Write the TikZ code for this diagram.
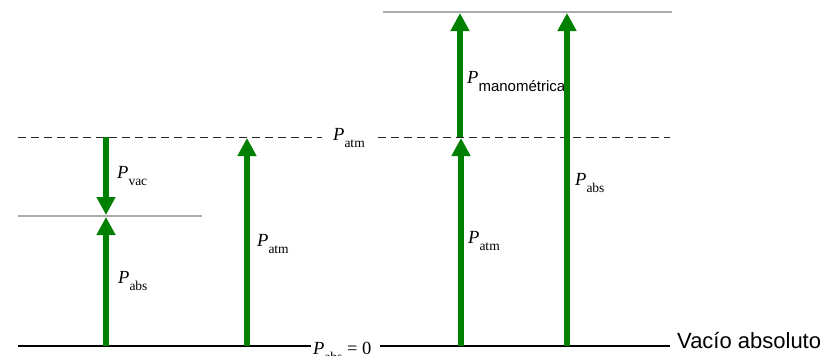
\documentclass[tikz,border=0pt]{standalone}
\usepackage{fontspec}
\setmainfont{Liberation Serif}
\newfontfamily\arialfont{Liberation Sans}
\usetikzlibrary{arrows.meta}
\definecolor{arrowgreen}{RGB}{0,128,0}
\definecolor{levelgrey}{RGB}{172,172,172}
\newcommand{\psub}[1]{\textit{P}\raisebox{-7pt}{\fontsize{13.5}{14}\selectfont #1}}
\tikzset{
  press/.style={draw=arrowgreen,line width=5.5pt,-{Triangle[width=18pt,length=18pt]}},
  zeroline/.style={draw=black,line width=2.6pt},
  atmline/.style={draw=black!85,line width=1pt,dash pattern=on 8pt off 5pt},
  level/.style={draw=levelgrey,line width=2.4pt},
  lbl/.style={anchor=base west,inner sep=0pt,font=\fontsize{18.5}{20}\selectfont},
}

\begin{document}
\begin{tikzpicture}[x=1pt,y=-1pt]
  \useasboundingbox[fill=white] (0,0) rectangle (825,356);

  % niveles de presion
  \coordinate (zeroL) at (18,346);
  \coordinate (atmL)  at (18,137);
  \coordinate (vacL)  at (18,216);
  \coordinate (vacR)  at (202,216);
  \coordinate (manL)  at (383,12);
  \coordinate (manR)  at (672,12);

  \node[lbl] (pzero) at (313,354) {\psub{abs} = 0};
  \node[lbl] (patm)  at (333,140) {\psub{atm}};
  \node[lbl,font=\arialfont\fontsize{22}{24}\selectfont] (vacio) at (677,348) {Vacío absoluto};

  \draw[zeroline] (zeroL) -- (311,346);
  \draw[zeroline] (380,346) -- (670,346);
  \draw[atmline] (atmL) -- (322,137);
  \draw[atmline] (378,137) -- (670,137);
  \draw[level] (vacL) -- (vacR);
  \draw[level] (manL) -- (manR);

  % etiquetas de las flechas
  \node[lbl] (pvac)   at (117,178) {\psub{vac}};
  \node[lbl] (pabsA)  at (118,283) {\psub{abs}};
  \node[lbl] (patmA)  at (257,246) {\psub{atm}};
  \node[lbl] (patmB)  at (468,243) {\psub{atm}};
  \node[lbl] (pabsB)  at (575,185) {\psub{abs}};
  \node[lbl] (pman)   at (467,83)
    {\textit{P}\raisebox{-8pt}{\arialfont\fontsize{15}{16}\selectfont manométrica}};

  % flechas
  \coordinate (a1) at (106,137);  \coordinate (a1e) at (106,215);
  \coordinate (a2) at (106,346);  \coordinate (a2e) at (106,217);
  \coordinate (a3) at (247,346);  \coordinate (a3e) at (247,138);
  \coordinate (a4) at (461,346);  \coordinate (a4e) at (461,138);
  \coordinate (a5) at (460,137);  \coordinate (a5e) at (460,13);
  \coordinate (a6) at (567,346);  \coordinate (a6e) at (567,13);

  \draw[press] (a1) -- (a1e);
  \draw[press] (a2) -- (a2e);
  \draw[press] (a3) -- (a3e);
  \draw[press] (a4) -- (a4e);
  \draw[press] (a5) -- (a5e);
  \draw[press] (a6) -- (a6e);
\end{tikzpicture}
\end{document}
